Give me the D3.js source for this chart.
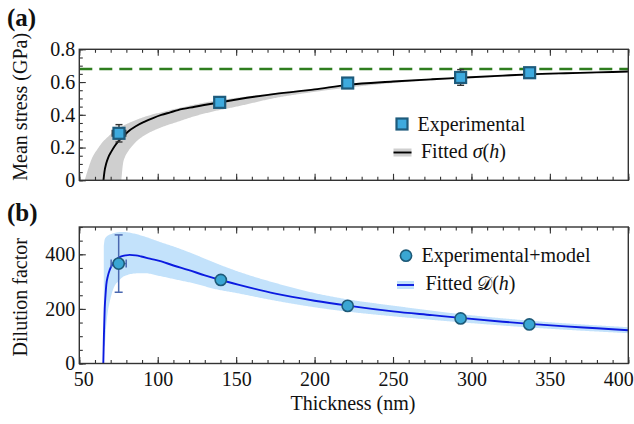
<!DOCTYPE html>
<html><head><meta charset="utf-8">
<script src="https://cdn.jsdelivr.net/npm/d3@7"></script>
<style>body{margin:0;background:#fff;} text{font-family:"Liberation Serif","Times New Roman",serif;}</style>
</head><body>
<svg id="c" width="634" height="424"></svg>
<script>
// ---------- DATA ----------
// Panel (a): mean stress
const stressH      = [75.3, 139.5, 221.1, 293.1, 337.1];
const stressVal    = [0.287, 0.476, 0.594, 0.628, 0.657];
const stressErrY   = [0.053, 0.010, 0.010, 0.048, 0.010];
const stressErrX   = [4.3, 0, 0, 0, 0];
const stressLimit  = 0.68;
const fitSigmaH    = [65.4,66.0,67.2,68.5,70.4,72.5,74.7,78.0,81.0,86.0,91.7,97.0,102.3,108.0,112.9,123.6,139.5,151.2,175,200,221,250,275,293,320,337,360,380,400];
const fitSigmaV    = [0,0.05,0.104,0.14,0.175,0.208,0.236,0.268,0.297,0.33,0.358,0.38,0.399,0.415,0.429,0.449,0.476,0.495,0.528,0.555,0.583,0.603,0.617,0.626,0.639,0.647,0.654,0.659,0.664];
const bandSigUpH   = [53.4,55.5,57.6,61.9,65.0,68.3,72.0,76.8,84.0,91.7,102,112.9,134.2,151.2,175,200,250,300,350,400];
const bandSigUpV   = [0,0.065,0.124,0.195,0.235,0.266,0.298,0.327,0.36,0.388,0.415,0.44,0.482,0.505,0.533,0.559,0.605,0.632,0.652,0.666];
const bandSigLoH   = [76.8,77.9,79.0,81.0,84.0,87.4,92.0,98.1,105,112.9,123,134.2,151.2,175,200,250,300,350,400];
const bandSigLoV   = [0,0.104,0.14,0.175,0.213,0.246,0.277,0.307,0.333,0.358,0.39,0.418,0.452,0.503,0.54,0.594,0.623,0.645,0.661];

// Panel (b): dilution factor
const dilH         = [75.1, 140.2, 221.1, 293.1, 336.9];
const dilVal       = [366, 306, 211, 165, 143];
const dilErrY      = [105, 7, 5, 9, 4];
const dilErrX      = [4.8, 0, 0, 0, 0];
const fitDH        = [65.3,65.5,65.7,66.2,66.7,67.2,68.2,69.4,71,72.6,74.7,76.8,79.5,82.1,86,89.5,95,102.3,110,119.3,130,140.1,151.2,175,200,221,250,275,293,320,337,360,380,400];
const fitDV        = [0,50,104,202,250,288,320,343,362,376,386,392,396,398,396,392,384,374,359,343,323,306,289,256,230,212,191,177,167,153,145,136,129,122];
const bandDUpH     = [65.6,66.2,68,70.4,73,76.8,80,83.2,91.7,100,112.9,125,134.2,151.2,175,200,221,250,293,337,400];
const bandDUpV     = [430,455,468,474,479,482,481,478,465,448,423,396,374,337,295,258,235,212,181,157,133];
const bandDLoH     = [65.6,66.2,67.2,68.2,69.4,71,72.6,74.7,77.5,81,86,91.7,100,112.9,125,134.2,151.2,175,200,221,250,293,337,400];
const bandDLoV     = [60,67,141,190,226,262,285,300,316,325,330,331,322,306,291,276,257,230,206,190,173,151,132,111];

// Axes ticks / labels
const xDomain = [50, 400];
const xMajor = [50,100,150,200,250,300,350,400];
const yTopMajor = [0,0.2,0.4,0.6,0.8];
const yTopLabels = ["0","0.2","0.4","0.6","0.8"];
const yBotMajor = [0,200,400];

// ---------- LAYOUT ----------
const svg = d3.select("#c");
const L = 79.3, R = 628.3;
const aT = 49.3, aB = 180.3, bT = 227, bB = 363.5;
const x = d3.scaleLinear().domain(xDomain).range([L, R]);
const yA = d3.scaleLinear().domain([0, 0.8]).range([aB, aT]);
const yB = d3.scaleLinear().domain([0, 500]).range([bB, bT]);
const frameCol = "#333";

function range(a,b,s){const r=[];for(let v=a;v<=b+1e-9;v+=s)r.push(+v.toFixed(6));return r;}

const defs = svg.append("defs");
defs.append("clipPath").attr("id","clipA").append("rect").attr("x",L).attr("y",aT).attr("width",R-L).attr("height",aB-aT);
defs.append("clipPath").attr("id","clipB").append("rect").attr("x",L).attr("y",bT).attr("width",R-L).attr("height",bB-bT);

function samplePoly(upH, upV, loH, loV, y){
  // smooth polygon: upper monotone curve forward, lower monotone curve backward
  const ln = d3.line().x(d=>x(d[0])).y(d=>y(d[1])).curve(d3.curveMonotoneX);
  const g = svg.append("g").attr("visibility","hidden");
  const pu = g.append("path").attr("d", ln(upH.map((h,i)=>[h,upV[i]]))).node();
  const pl = g.append("path").attr("d", ln(loH.map((h,i)=>[h,loV[i]]))).node();
  const pts = [], lowPts = [];
  const lu = pu.getTotalLength(), ll = pl.getTotalLength();
  for(let s=0;s<=lu;s+=1){const p=pu.getPointAtLength(s);pts.push([p.x,p.y]);}
  pts.push([pu.getPointAtLength(lu).x, pu.getPointAtLength(lu).y]);
  for(let s=0;s<=ll;s+=1){const p=pl.getPointAtLength(s);lowPts.push([p.x,p.y]);}
  lowPts.push([pl.getPointAtLength(ll).x, pl.getPointAtLength(ll).y]);
  g.remove();
  return "M"+pts.concat(lowPts.reverse()).map(p=>p[0].toFixed(2)+","+p[1].toFixed(2)).join("L")+"Z";
}

// ---------- PANEL (a) ----------
const gA = svg.append("g");
gA.append("path").attr("clip-path","url(#clipA)")
  .attr("d", samplePoly(bandSigUpH,bandSigUpV,bandSigLoH,bandSigLoV,yA))
  .attr("fill","#cfcfcf");
gA.append("line").attr("clip-path","url(#clipA)")
  .attr("x1",x(xDomain[0])).attr("x2",x(xDomain[1])).attr("y1",yA(stressLimit)).attr("y2",yA(stressLimit))
  .attr("stroke","#2e7d1e").attr("stroke-width",2.6).attr("stroke-dasharray","13,7");
gA.append("path").attr("clip-path","url(#clipA)")
  .attr("d", d3.line().x(d=>x(d[0])).y(d=>yA(d[1])).curve(d3.curveMonotoneX)(fitSigmaH.map((h,i)=>[h,fitSigmaV[i]])))
  .attr("fill","none").attr("stroke","#000").attr("stroke-width",1.9);
const ebA = gA.append("g").attr("stroke","#333").attr("stroke-width",1.4);
stressH.forEach((h,i)=>{
  const cx=x(h), cy=yA(stressVal[i]);
  if(stressErrY[i]>0){
    const y1=yA(stressVal[i]+stressErrY[i]), y2=yA(stressVal[i]-stressErrY[i]);
    ebA.append("line").attr("x1",cx).attr("x2",cx).attr("y1",y1).attr("y2",y2);
    ebA.append("line").attr("x1",cx-3.5).attr("x2",cx+3.5).attr("y1",y1).attr("y2",y1);
    ebA.append("line").attr("x1",cx-3.5).attr("x2",cx+3.5).attr("y1",y2).attr("y2",y2);
  }
  if(stressErrX[i]>0){
    const x1=x(h-stressErrX[i]), x2=x(h+stressErrX[i]);
    ebA.append("line").attr("x1",x1).attr("x2",x2).attr("y1",cy).attr("y2",cy);
    ebA.append("line").attr("x1",x1).attr("x2",x1).attr("y1",cy-3.5).attr("y2",cy+3.5);
    ebA.append("line").attr("x1",x2).attr("x2",x2).attr("y1",cy-3.5).attr("y2",cy+3.5);
  }
});
gA.selectAll("rect.m").data(stressH).enter().append("rect")
  .attr("x",(d)=>x(d)-5.5).attr("y",(d,i)=>yA(stressVal[i])-5.5).attr("width",11).attr("height",11)
  .attr("fill","#3eaade").attr("stroke","#1e5b7c").attr("stroke-width",2.2);

// ---------- PANEL (b) ----------
const gB = svg.append("g");
gB.append("path").attr("clip-path","url(#clipB)")
  .attr("d", samplePoly(bandDUpH,bandDUpV,bandDLoH,bandDLoV,yB))
  .attr("fill","#c3e2fb");
gB.append("path").attr("clip-path","url(#clipB)")
  .attr("d", d3.line().x(d=>x(d[0])).y(d=>yB(d[1])).curve(d3.curveMonotoneX)(fitDH.map((h,i)=>[h,fitDV[i]])))
  .attr("fill","none").attr("stroke","#0b1be0").attr("stroke-width",1.9);
const ebB = gB.append("g").attr("stroke","#4a68b0").attr("stroke-width",1.5);
dilH.forEach((h,i)=>{
  const cx=x(h), cy=yB(dilVal[i]);
  if(dilErrY[i]>0){
    const y1=yB(dilVal[i]+dilErrY[i]), y2=yB(dilVal[i]-dilErrY[i]);
    ebB.append("line").attr("x1",cx).attr("x2",cx).attr("y1",y1).attr("y2",y2);
    ebB.append("line").attr("x1",cx-4).attr("x2",cx+4).attr("y1",y1).attr("y2",y1);
    ebB.append("line").attr("x1",cx-4).attr("x2",cx+4).attr("y1",y2).attr("y2",y2);
  }
  if(dilErrX[i]>0){
    const x1=x(h-dilErrX[i]), x2=x(h+dilErrX[i]);
    ebB.append("line").attr("x1",x1).attr("x2",x2).attr("y1",cy).attr("y2",cy);
    ebB.append("line").attr("x1",x1).attr("x2",x1).attr("y1",cy-4).attr("y2",cy+4);
    ebB.append("line").attr("x1",x2).attr("x2",x2).attr("y1",cy-4).attr("y2",cy+4);
  }
});
gB.selectAll("circle.m").data(dilH).enter().append("circle")
  .attr("cx",d=>x(d)).attr("cy",(d,i)=>yB(dilVal[i])).attr("r",5.6)
  .attr("fill","#3aa6d3").attr("stroke","#1e5a78").attr("stroke-width",1.6);

// ---------- AXES ----------
function styleAxis(g){
  g.select(".domain").remove();
  g.selectAll(".tick line").attr("stroke",frameCol).attr("stroke-width",1.1);
  g.selectAll("text").attr("font-family","Liberation Serif").attr("font-size",20).attr("fill","#111");
}
function axes(yS, top, bottom, yMajor, yMinorStep, yLabels, showX){
  const xb = svg.append("g").attr("transform",`translate(0,${bottom})`)
    .call(d3.axisBottom(x).tickValues(range(50,400,10)).tickSize(-3.5).tickFormat(""));
  styleAxis(xb);
  const xbM = svg.append("g").attr("transform",`translate(0,${bottom})`)
    .call(d3.axisBottom(x).tickValues(xMajor).tickSize(-6.5).tickPadding(8).tickFormat(showX? d3.format("d") : ""));
  styleAxis(xbM);
  if(showX){
    xbM.selectAll(".tick text").attr("dx", d => d===xMajor[0] ? 4 : (d===xMajor[xMajor.length-1] ? -10 : 0));
  }
  styleAxis(svg.append("g").attr("transform",`translate(0,${top})`)
    .call(d3.axisTop(x).tickValues(range(50,400,10)).tickSize(-3.5).tickFormat("")));
  styleAxis(svg.append("g").attr("transform",`translate(0,${top})`)
    .call(d3.axisTop(x).tickValues(xMajor).tickSize(-6.5).tickFormat("")));
  const d = yS.domain();
  styleAxis(svg.append("g").attr("transform",`translate(${L},0)`)
    .call(d3.axisLeft(yS).tickValues(range(d[0],d[1],yMinorStep)).tickSize(-3.5).tickFormat("")));
  const yl = svg.append("g").attr("transform",`translate(${L},0)`)
    .call(d3.axisLeft(yS).tickValues(yMajor).tickSize(-6.5).tickPadding(4)
      .tickFormat((v,i)=>yLabels[i]));
  styleAxis(yl);
  svg.append("rect").attr("x",L).attr("y",top).attr("width",R-L).attr("height",bottom-top)
    .attr("fill","none").attr("stroke",frameCol).attr("stroke-width",1.4);
}
axes(yA, aT, aB, yTopMajor, 0.05, yTopLabels, false);
axes(yB, bT, bB, yBotMajor, 50, yBotMajor.map(String), true);

// ---------- TITLES ----------
svg.append("text").attr("x",7).attr("y",26).attr("font-family","Liberation Sans").attr("font-weight","bold")
  .attr("font-size",25).attr("fill","#111").text("(a)");
svg.append("text").attr("x",7).attr("y",221).attr("font-family","Liberation Sans").attr("font-weight","bold")
  .attr("font-size",25).attr("fill","#111").text("(b)");
svg.append("text").attr("transform",`translate(27,${(aT+aB)/2-8}) rotate(-90)`).attr("text-anchor","middle")
  .attr("font-size",20).attr("fill","#111").text("Mean stress (GPa)");
svg.append("text").attr("transform",`translate(27,${(bT+bB)/2+2}) rotate(-90)`).attr("text-anchor","middle")
  .attr("font-size",20).attr("fill","#111").text("Dilution factor");
svg.append("text").attr("x",353).attr("y",410).attr("text-anchor","middle")
  .attr("font-size",20).attr("fill","#111").text("Thickness (nm)");

// ---------- LEGENDS ----------
const lg = svg.append("g");
lg.append("rect").attr("x",396.5).attr("y",118.5).attr("width",11).attr("height",11)
  .attr("fill","#3eaade").attr("stroke","#1e5b7c").attr("stroke-width",2.2);
lg.append("text").attr("x",417.5).attr("y",130.5).attr("font-size",20).attr("fill","#111").text("Experimental");
lg.append("rect").attr("x",393.5).attr("y",148.5).attr("width",18).attr("height",8).attr("fill","#cfcfcf");
lg.append("line").attr("x1",393.5).attr("x2",411.5).attr("y1",152.5).attr("y2",152.5).attr("stroke","#000").attr("stroke-width",1.9);
const t2 = lg.append("text").attr("x",421).attr("y",158).attr("font-size",20).attr("fill","#111");
t2.append("tspan").text("Fitted ");
t2.append("tspan").attr("font-style","italic").text("σ");
t2.append("tspan").text("(");
t2.append("tspan").attr("font-style","italic").text("h");
t2.append("tspan").text(")");

lg.append("circle").attr("cx",406).attr("cy",255.7).attr("r",5.6)
  .attr("fill","#3aa6d3").attr("stroke","#1e5a78").attr("stroke-width",1.6);
lg.append("text").attr("x",421.5).attr("y",262.3).attr("font-size",20).attr("fill","#111").text("Experimental+model");
lg.append("rect").attr("x",397).attr("y",281).attr("width",17).attr("height",8).attr("fill","#c3e2fb");
lg.append("line").attr("x1",397).attr("x2",414).attr("y1",285).attr("y2",285).attr("stroke","#0b1be0").attr("stroke-width",1.9);
const t4 = lg.append("text").attr("x",425.5).attr("y",290).attr("font-size",20).attr("fill","#111");
t4.append("tspan").text("Fitted ");
t4.append("tspan").attr("font-family","DejaVu Serif, DejaVu Sans, Noto Sans, serif").attr("font-size",19).text("𝒟");
t4.append("tspan").text("(");
t4.append("tspan").attr("font-style","italic").text("h");
t4.append("tspan").text(")");
</script>
</body></html>
